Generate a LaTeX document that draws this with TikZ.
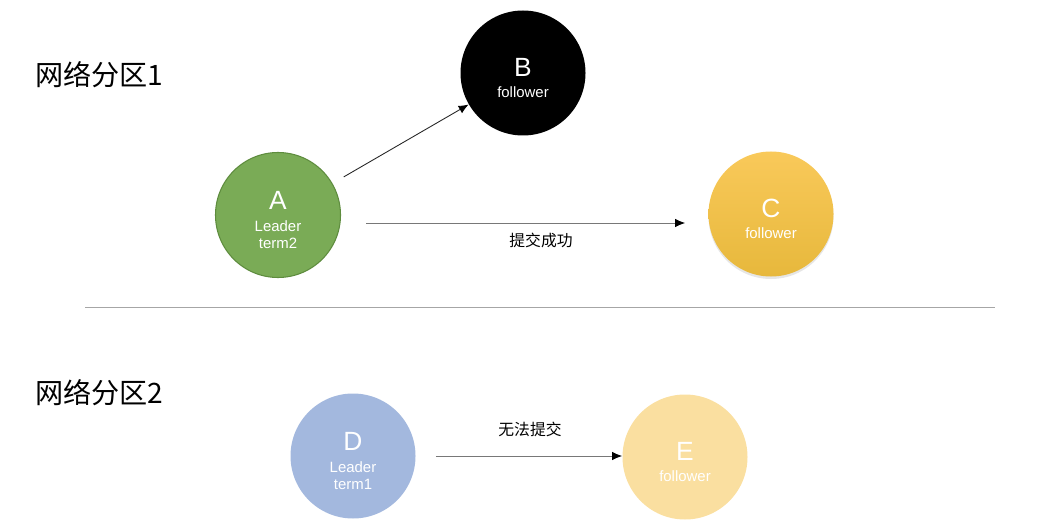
\documentclass[tikz,border=0pt]{standalone}
\usepackage{fontspec}
\setmainfont{Liberation Sans}
\newfontfamily\cjk{Noto Sans CJK SC}
\usepackage{tikz}
\usetikzlibrary{arrows.meta,shapes,positioning,shadows}
\usepackage{xcolor}
\definecolor{rfgreen}{RGB}{122,171,86}
\definecolor{rfgreenline}{RGB}{94,140,62}
\definecolor{rfyellowtop}{RGB}{249,201,90}
\definecolor{rfyellowbot}{RGB}{231,184,60}
\definecolor{rfblue}{RGB}{163,184,222}
\definecolor{rflightyellow}{RGB}{250,223,160}
\definecolor{rfline}{RGB}{120,120,120}
\tikzstyle{raftnode} = [circle, minimum size=2.5cm, inner sep=0pt, text centered, align=center, text=white, font=\fontsize{8.5}{10}\selectfont]
\tikzstyle{arrow} = [line width=0.5pt, -{Latex[length=2mm, width=1.7mm, black]}, color=rfline]
\tikzstyle{title} = [anchor=west, inner sep=0pt, font=\cjk\fontsize{16}{19}\selectfont]
\tikzstyle{note} = [inner sep=0pt, font=\cjk\fontsize{9}{11}\selectfont]
\newcommand{\bigletter}[1]{{\fontsize{15}{15}\selectfont\rule{0pt}{16pt}#1}\\[2.5pt]}

\begin{document}
\begin{tikzpicture}
\useasboundingbox (0,0) rectangle (20.76,-10.60);

% Partition titles
\node[title] (p1) at (0.70,-1.49) {网络分区1};
\node[title] (p2) at (0.70,-7.85) {网络分区2};

% Partition 1
\node[raftnode, fill=rfgreen, draw=rfgreenline, line width=0.6pt] (A) at (5.56,-4.30) {\bigletter{A}Leader\\term2};
\node[raftnode, fill=black] (B) at (10.46,-1.46) {\bigletter{B}follower};
\node[raftnode, top color=rfyellowtop, bottom color=rfyellowbot, drop shadow={opacity=0.2, shadow xshift=0cm, shadow yshift=-0.05cm}] (C) at (15.42,-4.28) {\bigletter{C}follower};

% Separator
\coordinate (sepl) at (1.70,-6.14);
\coordinate (sepr) at (19.90,-6.14);
\draw[line width=0.5pt, color=black!35] (sepl) -- (sepr);

% Partition 2
\node[raftnode, fill=rfblue] (D) at (7.06,-9.12) {\bigletter{D}Leader\\term1};
\node[raftnode, fill=rflightyellow] (E) at (13.70,-9.14) {\bigletter{E}follower};

% Arrows
\draw[arrow, color=black!85] (A) -- (B) [shorten <=0.26cm];
\draw[arrow] ([yshift=-0.16cm]A.east) -- ([yshift=-0.16cm]A.east -| C.west) [shorten <=0.50cm, shorten >=0.46cm];
\draw[arrow] (D) -- (D -| E.west) [shorten <=0.40cm];

% Labels
\node[note] (ok) at (10.82,-4.80) {提交成功};
\node[note] (fail) at (10.60,-8.58) {无法提交};
\end{tikzpicture}
\end{document}
